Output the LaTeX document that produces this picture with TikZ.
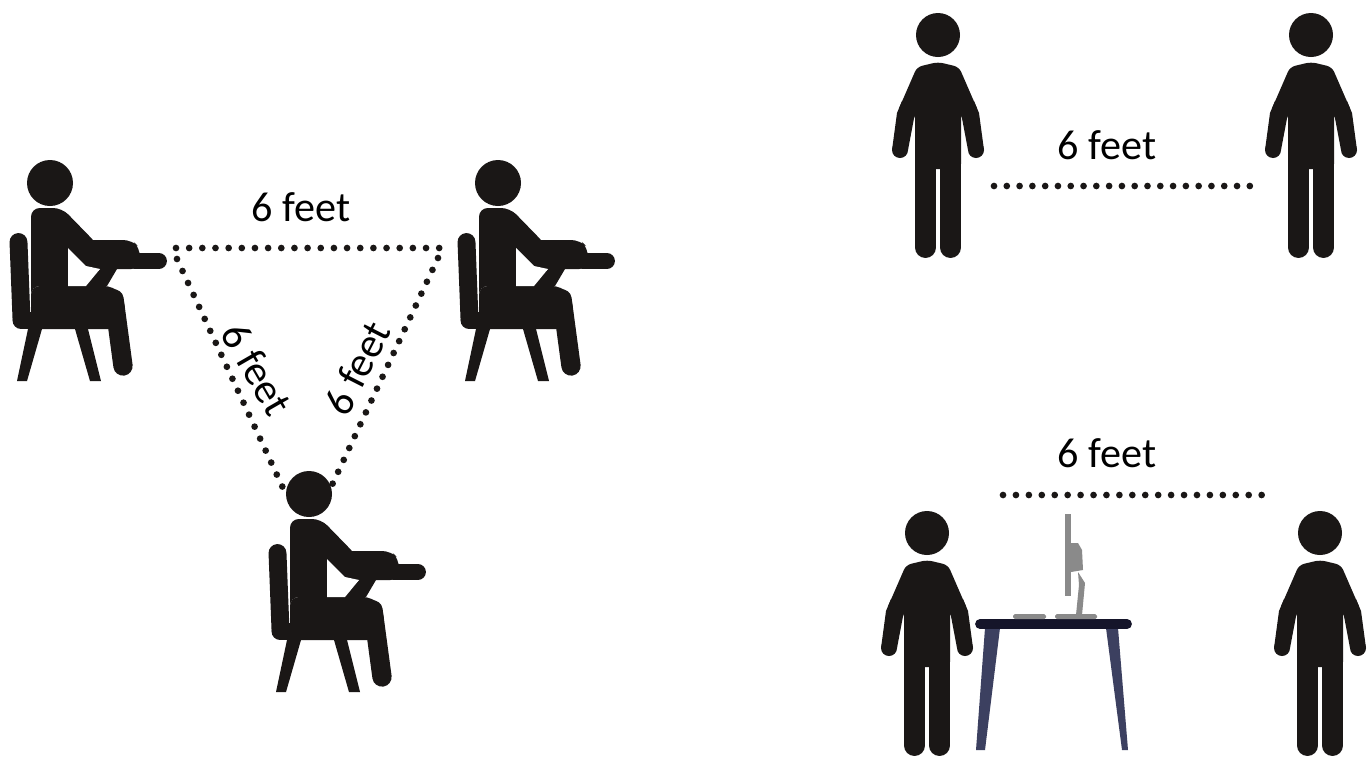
\documentclass[tikz,border=0pt]{standalone}
\usepackage{fontspec}
\setmainfont{Carlito}
\definecolor{figure}{HTML}{1A1716}
\definecolor{tabletop}{HTML}{15152A}
\definecolor{tableleg}{HTML}{3C4060}
\definecolor{screen}{HTML}{8A8A8A}
\tikzset{
  seated/.pic={
    \fill[figure] (0,0) circle[radius=23];
    \draw[figure,line width=10.2pt,line cap=round] (-31.5,59) -- (-28.5,136);
    \draw[figure,line width=9.6pt,line cap=round] (-29,137.5) -- (42,137.5);
    \draw[figure,line width=11pt,line cap=round] (64,116) -- (73,183);
    \fill[figure,rounded corners=5pt] (-19,140) -- (-19,25) -- (12,25) -- (48,62) -- (48,103) -- (-19,103) -- cycle;
    \fill[figure,rounded corners=5pt] (30,57) -- (82,57) -- (90,65) -- (90,86) -- (35,86) -- cycle;
    \draw[figure,line width=9pt,line cap=round] (85,78) -- (109,78);
    \fill[figure] (50,86) -- (67,86) -- (57,103) -- (36,103) -- cycle;
    \fill[figure,rounded corners=5pt] (-19,103) -- (63,103) -- (74,114) -- (76,146) -- (-19,146) -- cycle;
    \fill[figure] (-22,146) -- (-8,146) -- (-23,198) -- (-33,198) -- cycle;
    \fill[figure] (25,146) -- (38,146) -- (51,198) -- (40,198) -- cycle;
    \fill[white] (18,65) -- (36,83) -- (50,86) -- (36,103) -- (18,103) -- cycle;
  },
  standing/.pic={
    \fill[figure] (0,0) circle[radius=22];
    \fill[figure,rounded corners=3pt] (0,27) -- (-21,32) -- (-41,78) -- (-23,78) -- (-23,134) -- (23,134) -- (23,78) -- (41,78) -- (21,32) -- cycle;
    \fill[figure] (-36,66) -- (-41,78) -- (-46,115) -- (-30,115) -- (-23,78) -- (-23,66) -- cycle;
    \fill[figure] (36,66) -- (41,78) -- (46,115) -- (30,115) -- (23,78) -- (23,66) -- cycle;
    \fill[figure] (-38,115) circle[radius=8];
    \fill[figure] (38,115) circle[radius=8];
    \draw[figure,line width=11.9pt,line cap=round] (-12.5,130) -- (-12.5,212.5);
    \draw[figure,line width=11.9pt,line cap=round] (12.5,130) -- (12.5,212.5);
  },
  dotline/.style={line width=3.8pt,line cap=round,dash pattern=on 0pt off #1,figure},
  dotline/.default=7.28pt,
  distlabel/.style={font=\fontsize{24}{27}\selectfont,text=black,inner sep=0pt}
}
\begin{document}
\begin{tikzpicture}[x=0.02cm,y=-0.02cm]
  \useasboundingbox (0,0) rectangle (1372,758);
  \fill[white] (0,0) rectangle (1372,758);
  \pic at (50,183) {seated};
  \pic at (498,183) {seated};
  \pic at (309,494) {seated};
  \pic at (938,35) {standing};
  \pic at (1311,35) {standing};
  \pic at (927,533) {standing};
  \pic at (1320,533) {standing};
  \coordinate (triLeft) at (176,248);
  \coordinate (triRight) at (441,248);
  \coordinate (sideLeft) at (177,259);
  \coordinate (sideRight) at (438,258);
  \coordinate (triLowL) at (283,488);
  \coordinate (triLowR) at (332,485);
  \coordinate (topA) at (994,186);
  \coordinate (topB) at (1252,186);
  \coordinate (deskA) at (1003,495);
  \coordinate (deskB) at (1264,495);
  \draw[dotline=7.49pt] (triLeft) -- (triRight);
  \draw[dotline=7.51pt] (sideLeft) -- (triLowL);
  \draw[dotline=7.46pt] (sideRight) -- (triLowR);
  \draw[dotline] (topA) -- (topB);
  \draw[dotline=7.36pt] (deskA) -- (deskB);
  \node[distlabel] (labelTri) at (301,207) {6 feet};
  \node[distlabel,rotate=-60] (labelLeft) at (257,369) {6 feet};
  \node[distlabel,rotate=63] (labelRight) at (357,368) {6 feet};
  \node[distlabel] (labelTop) at (1107,145) {6 feet};
  \node[distlabel] (labelDesk) at (1107,453) {6 feet};
  \fill[tableleg] (985,628) -- (1000,628) -- (985,750) -- (976,750) -- cycle;
  \fill[tableleg] (1106,628) -- (1118,628) -- (1128,750) -- (1122,750) -- cycle;
  \draw[tabletop,line width=5.6pt,line cap=round] (980,624) -- (1127,624);
  \fill[screen] (1065,514) rectangle (1071,596);
  \fill[screen] (1071,543) -- (1078,543) -- (1082,550) -- (1083,570) -- (1071,572) -- cycle;
  \fill[screen] (1078,572) -- (1085,583) -- (1082,615) -- (1076,615) -- (1079,585) -- cycle;
  \fill[screen,rounded corners=1pt] (1055,614) rectangle (1097,619);
  \fill[screen,rounded corners=1pt] (1013,614) rectangle (1046,619);
\end{tikzpicture}
\end{document}
